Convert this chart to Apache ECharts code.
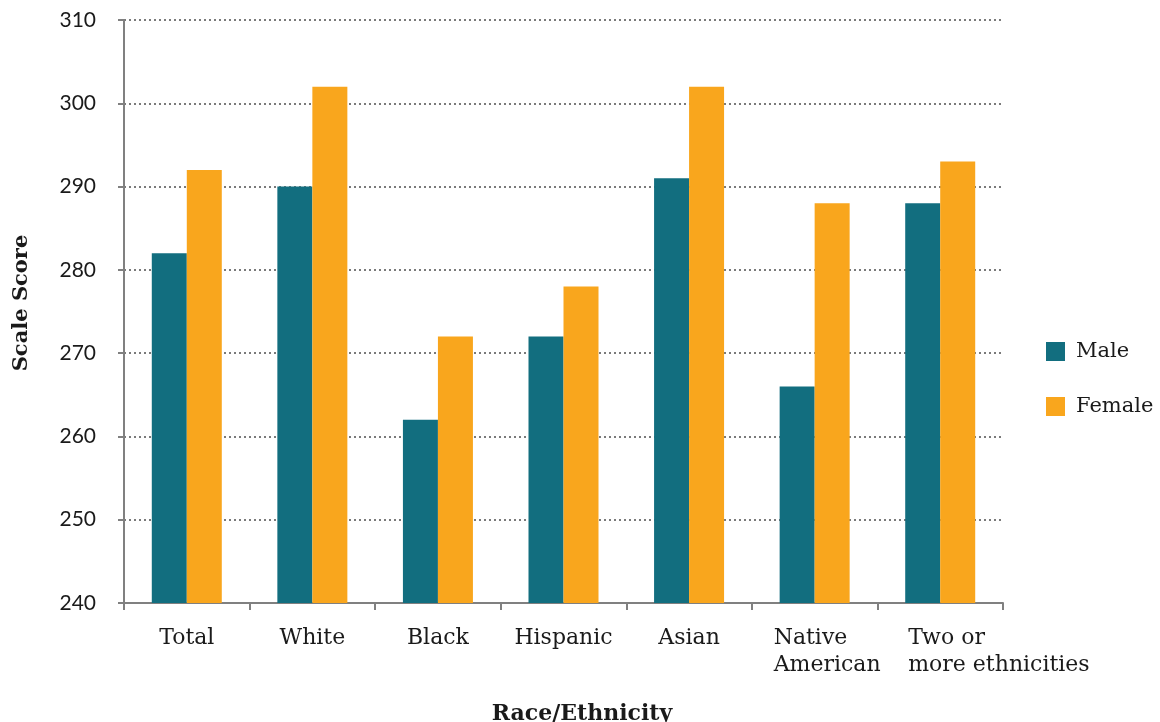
<!DOCTYPE html>
<html>
<head>
<meta charset="utf-8">
<script src="https://cdn.jsdelivr.net/npm/echarts@6/dist/echarts.min.js"></script>
<style>
  html, body { margin: 0; padding: 0; background: #ffffff; }
  #chart { width: 1160px; height: 722px; }
</style>
</head>
<body>
<div id="chart"></div>
<script>
// Average scale scores by race/ethnicity and gender
const categories = ['Total', 'White', 'Black', 'Hispanic', 'Asian', 'Native\nAmerican', 'Two or\nmore ethnicities'];
const maleScores = [282, 290, 262, 272, 291, 266, 288];
const femaleScores = [292, 302, 272, 278, 302, 288, 293];
const yTicks = [240, 250, 260, 270, 280, 290, 300, 310];

const serif = '"DejaVu Serif", "Liberation Serif", serif';
const sans = 'Lato, "Open Sans", sans-serif';
const axisGray = '#808080';
const ink = '#1a1a1a';
const labelSize = 22;

// Multi-line labels are set flush-left inside a narrow box so they sit right of center
const labelBox = { 5: 82, 6: 64 };

const richLabel = {};
Object.keys(labelBox).forEach(function (k) {
  richLabel['b' + k] = { width: labelBox[k], align: 'left', fontFamily: serif, fontSize: labelSize, lineHeight: 27, color: ink };
});

const chart = echarts.init(document.getElementById('chart'), null, { renderer: 'canvas' });
chart.setOption({
  animation: false,
  grid: { left: 124, right: 157, top: 20, bottom: 119 },
  legend: {
    orient: 'vertical',
    left: 1046,
    top: 341,
    padding: 0,
    itemWidth: 19,
    itemHeight: 19,
    itemGap: 34,
    icon: 'rect',
    textStyle: { fontFamily: serif, fontSize: 21, color: ink, padding: [0, 0, 0, 6] },
    data: ['Male', 'Female']
  },
  xAxis: {
    type: 'category',
    data: categories,
    axisLine: { lineStyle: { color: axisGray, width: 2 } },
    axisTick: { show: true, length: 7, lineStyle: { color: axisGray, width: 2 } },
    axisLabel: {
      margin: 22,
      interval: 0,
      fontFamily: serif,
      fontSize: labelSize,
      lineHeight: 27,
      color: ink,
      formatter: function (v, i) {
        if (labelBox[i]) return '{b' + i + '|' + v + '}';
        return v;
      },
      rich: richLabel
    },
    splitLine: { show: false }
  },
  yAxis: {
    type: 'value',
    min: yTicks[0],
    max: yTicks[yTicks.length - 1],
    interval: 10,
    axisLine: { show: true, lineStyle: { color: axisGray, width: 2 } },
    axisTick: { show: true, length: 6, lineStyle: { color: axisGray, width: 2 } },
    axisLabel: { margin: 28, fontFamily: sans, fontSize: 21, color: ink },
    splitLine: {
      show: true,
      lineStyle: { color: '#7a7a7a', width: 2, type: [2, 3] }
    }
  },
  series: [
    {
      name: 'Male',
      type: 'bar',
      data: maleScores,
      barWidth: 35,
      barGap: '0%',
      itemStyle: { color: '#126e7f' }
    },
    {
      name: 'Female',
      type: 'bar',
      data: femaleScores,
      barWidth: 35,
      barGap: '0%',
      itemStyle: { color: '#f9a61d' }
    }
  ],
  graphic: [
    {
      type: 'text',
      x: 22,
      y: 303,
      rotation: Math.PI / 2,
      style: {
        text: 'Scale Score',
        fontFamily: serif,
        fontWeight: 'bold',
        fontSize: 21,
        fill: ink,
        align: 'center',
        verticalAlign: 'middle'
      }
    },
    {
      type: 'text',
      x: 582,
      y: 714,
      style: {
        text: 'Race/Ethnicity',
        fontFamily: serif,
        fontWeight: 'bold',
        fontSize: 22,
        fill: ink,
        align: 'center',
        verticalAlign: 'middle'
      }
    }
  ]
});
</script>
</body>
</html>
